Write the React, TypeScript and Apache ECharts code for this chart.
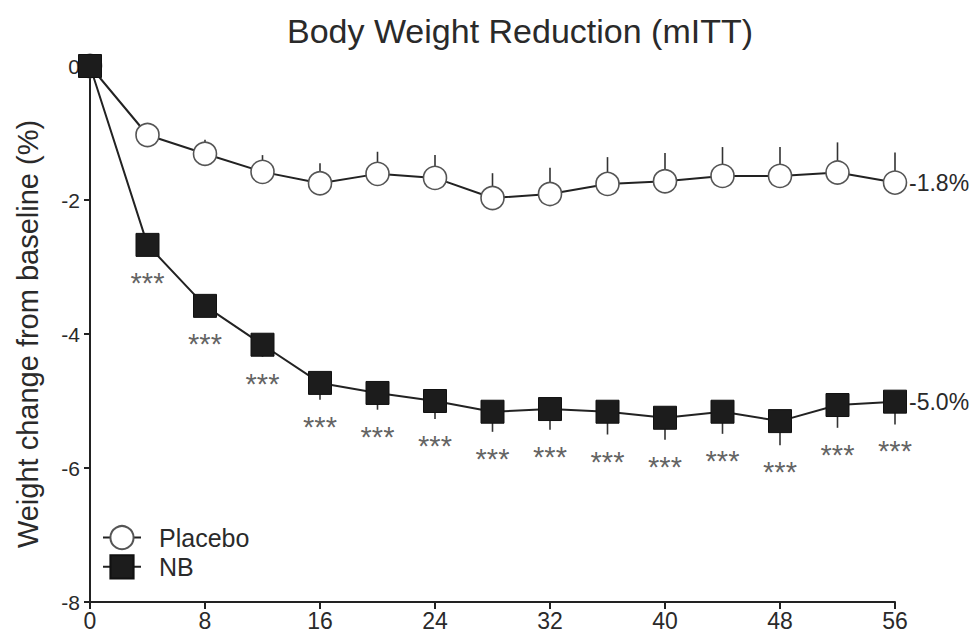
import React, { useEffect, useRef } from "react";
import * as echarts from "echarts";

const weeks = [0, 4, 8, 12, 16, 20, 24, 28, 32, 36, 40, 44, 48, 52, 56];
const placebo = [0, -1.03, -1.31, -1.58, -1.75, -1.61, -1.67, -1.97, -1.91, -1.76, -1.72, -1.64, -1.64, -1.59, -1.74];
const placeboSE = [0, 0.15, 0.21, 0.25, 0.3, 0.33, 0.34, 0.37, 0.39, 0.4, 0.42, 0.43, 0.43, 0.45, 0.45];
const nb = [0, -2.67, -3.58, -4.16, -4.73, -4.88, -5.0, -5.16, -5.12, -5.16, -5.25, -5.16, -5.3, -5.06, -5.01];
const nbSE = [0, 0.16, 0.16, 0.18, 0.25, 0.25, 0.27, 0.3, 0.31, 0.34, 0.33, 0.33, 0.36, 0.34, 0.34];
const significance = ["", "***", "***", "***", "***", "***", "***", "***", "***", "***", "***", "***", "***", "***", "***"];
const placeboEndLabel = "-1.8%";
const nbEndLabel = "-5.0%";
const titleText = "Body Weight Reduction (mITT)";
const yAxisName = "Weight change from baseline (%)";

const NARROW = "'Liberation Sans Narrow', 'Arial Narrow', 'Liberation Sans', Arial, sans-serif";
const SANS = "'Liberation Sans', Arial, Helvetica, sans-serif";

export default function App() {
  const ref = useRef<HTMLDivElement>(null);
  useEffect(() => {
    if (!ref.current) return;
    const chart = echarts.init(ref.current, null, { renderer: "svg" });

    const errRender = (dir: number) => (params: any, api: any) => {
      const x = api.value(0);
      const v = api.value(1);
      const e = api.value(2);
      if (!e) return null;
      const p1 = api.coord([x, v]);
      const p2 = api.coord([x, v + dir * e]);
      return {
        type: "line",
        shape: { x1: p1[0], y1: p1[1], x2: p2[0], y2: p2[1] },
        style: { stroke: "#333", lineWidth: 1.6 },
      };
    };

    const placeboErr = weeks.map((w, i) => [w, placebo[i], placeboSE[i]]);
    const nbErr = weeks.map((w, i) => [w, nb[i], nbSE[i]]);
    const stars = weeks
      .map((w, i) => ({ value: [w, nb[i] - nbSE[i]], sig: significance[i] }))
      .filter((d) => d.sig);

    chart.setOption({
      animation: false,
      backgroundColor: "#ffffff",
      graphic: [
        {
          type: "text",
          x: 520,
          y: 31,
          style: {
            text: titleText,
            fontSize: 34,
            fontFamily: SANS,
            fill: "#2a2a2a",
            textAlign: "center",
            textVerticalAlign: "middle",
          },
        },
      ],
      legend: {
        left: 97,
        top: 520,
        orient: "vertical",
        itemWidth: 38,
        itemHeight: 29,
        itemGap: 4,
        data: ["Placebo", "NB"],
        textStyle: { fontSize: 25, color: "#2a2a2a", fontFamily: SANS, padding: [0, 0, 0, 13] },
      },
      grid: { left: 90, right: 83, top: 66, bottom: 35, containLabel: false },
      xAxis: {
        type: "value",
        min: 0,
        max: 56,
        interval: 8,
        axisLine: { show: true, onZero: false, lineStyle: { color: "#222", width: 2 } },
        axisTick: { show: true, length: 7, lineStyle: { color: "#222", width: 2 } },
        axisLabel: { fontSize: 23, color: "#2a2a2a", fontFamily: NARROW, margin: 7 },
        splitLine: { show: false },
      },
      yAxis: {
        type: "value",
        min: -8,
        max: 0,
        interval: 2,
        name: yAxisName,
        nameLocation: "middle",
        nameGap: 48,
        nameTextStyle: { fontSize: 29, color: "#2a2a2a", fontFamily: SANS },
        axisLine: { show: true, onZero: false, lineStyle: { color: "#222", width: 2 } },
        axisTick: { show: true, length: 6, lineStyle: { color: "#222", width: 2 } },
        axisLabel: { fontSize: 21, color: "#2a2a2a", fontFamily: NARROW, margin: 10 },
        splitLine: { show: false },
      },
      series: [
        {
          type: "custom",
          name: "placeboErr",
          renderItem: errRender(1),
          data: placeboErr,
          encode: { x: 0, y: 1 },
          z: 1,
          silent: true,
        },
        {
          type: "custom",
          name: "nbErr",
          renderItem: errRender(-1),
          data: nbErr,
          encode: { x: 0, y: 1 },
          z: 1,
          silent: true,
        },
        {
          type: "line",
          name: "Placebo",
          data: weeks.map((w, i) => [w, placebo[i]]),
          symbol: "circle",
          symbolSize: 23,
          showAllSymbol: true,
          lineStyle: { color: "#222", width: 2 },
          itemStyle: { color: "#ffffff", borderColor: "#555", borderWidth: 1.6 },
          z: 3,
          endLabel: {
            show: true,
            formatter: placeboEndLabel,
            distance: 14,
            fontSize: 23,
            color: "#2a2a2a",
            fontFamily: NARROW,
          },
        },
        {
          type: "line",
          name: "NB",
          data: weeks.map((w, i) => [w, nb[i]]),
          symbol: "rect",
          symbolSize: 23,
          showAllSymbol: true,
          lineStyle: { color: "#222", width: 2 },
          itemStyle: { color: "#1c1c1c", borderColor: "#111", borderWidth: 1 },
          z: 4,
          endLabel: {
            show: true,
            formatter: nbEndLabel,
            distance: 14,
            fontSize: 23,
            color: "#2a2a2a",
            fontFamily: NARROW,
          },
        },
        {
          type: "scatter",
          name: "sig",
          data: stars.map((d) => ({ value: d.value, sig: d.sig })),
          symbolSize: 0,
          silent: true,
          z: 5,
          label: {
            show: true,
            formatter: (p: any) => p.data.sig,
            position: [0, 27],
            align: "center",
            verticalAlign: "middle",
            fontSize: 29,
            color: "#3a3a3a",
            fontFamily: SANS,
          },
        },
      ],
    });
    return () => chart.dispose();
  }, []);
  return (
    <div
      ref={ref}
      style={{ position: "fixed", left: 0, top: 0, width: 978, height: 637, background: "#fff" }}
    />
  );
}
